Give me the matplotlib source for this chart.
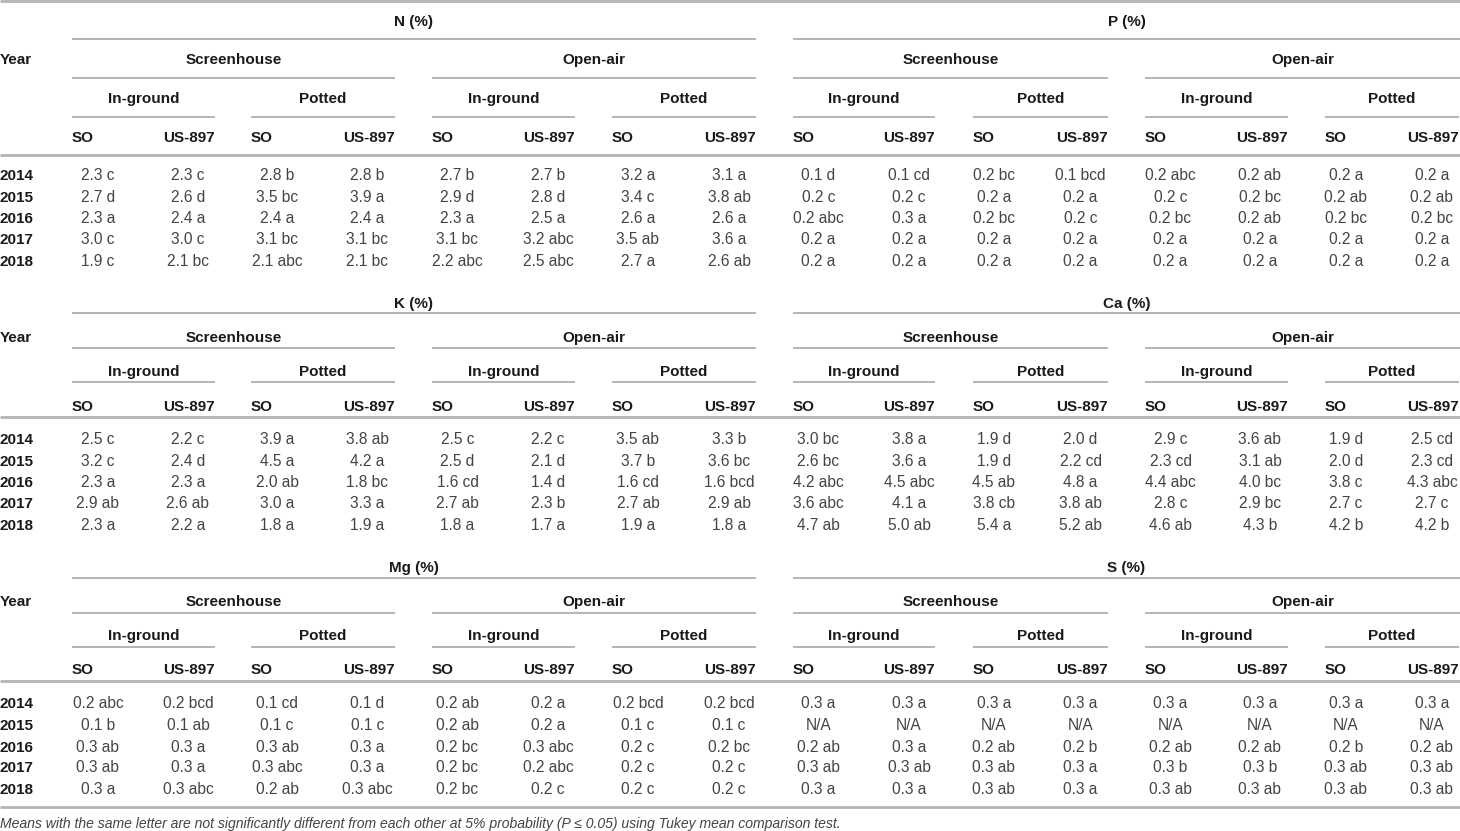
import matplotlib
matplotlib.use("Agg")
import matplotlib.pyplot as plt

# ---------------- data ----------------
years = ["2014", "2015", "2016", "2017", "2018"]
nutrients_top = ["N (%)", "P (%)"]
nutrients_mid = ["K (%)", "Ca (%)"]
nutrients_bot = ["Mg (%)", "S (%)"]
environments = ["Screenhouse", "Open-air"]
systems = ["In-ground", "Potted"]
rootstocks = ["SO", "US-897"]

N_vals = [
    ["2.3 c", "2.3 c", "2.8 b", "2.8 b", "2.7 b", "2.7 b", "3.2 a", "3.1 a"],
    ["2.7 d", "2.6 d", "3.5 bc", "3.9 a", "2.9 d", "2.8 d", "3.4 c", "3.8 ab"],
    ["2.3 a", "2.4 a", "2.4 a", "2.4 a", "2.3 a", "2.5 a", "2.6 a", "2.6 a"],
    ["3.0 c", "3.0 c", "3.1 bc", "3.1 bc", "3.1 bc", "3.2 abc", "3.5 ab", "3.6 a"],
    ["1.9 c", "2.1 bc", "2.1 abc", "2.1 bc", "2.2 abc", "2.5 abc", "2.7 a", "2.6 ab"],
]
P_vals = [
    ["0.1 d", "0.1 cd", "0.2 bc", "0.1 bcd", "0.2 abc", "0.2 ab", "0.2 a", "0.2 a"],
    ["0.2 c", "0.2 c", "0.2 a", "0.2 a", "0.2 c", "0.2 bc", "0.2 ab", "0.2 ab"],
    ["0.2 abc", "0.3 a", "0.2 bc", "0.2 c", "0.2 bc", "0.2 ab", "0.2 bc", "0.2 bc"],
    ["0.2 a", "0.2 a", "0.2 a", "0.2 a", "0.2 a", "0.2 a", "0.2 a", "0.2 a"],
    ["0.2 a", "0.2 a", "0.2 a", "0.2 a", "0.2 a", "0.2 a", "0.2 a", "0.2 a"],
]
K_vals = [
    ["2.5 c", "2.2 c", "3.9 a", "3.8 ab", "2.5 c", "2.2 c", "3.5 ab", "3.3 b"],
    ["3.2 c", "2.4 d", "4.5 a", "4.2 a", "2.5 d", "2.1 d", "3.7 b", "3.6 bc"],
    ["2.3 a", "2.3 a", "2.0 ab", "1.8 bc", "1.6 cd", "1.4 d", "1.6 cd", "1.6 bcd"],
    ["2.9 ab", "2.6 ab", "3.0 a", "3.3 a", "2.7 ab", "2.3 b", "2.7 ab", "2.9 ab"],
    ["2.3 a", "2.2 a", "1.8 a", "1.9 a", "1.8 a", "1.7 a", "1.9 a", "1.8 a"],
]
Ca_vals = [
    ["3.0 bc", "3.8 a", "1.9 d", "2.0 d", "2.9 c", "3.6 ab", "1.9 d", "2.5 cd"],
    ["2.6 bc", "3.6 a", "1.9 d", "2.2 cd", "2.3 cd", "3.1 ab", "2.0 d", "2.3 cd"],
    ["4.2 abc", "4.5 abc", "4.5 ab", "4.8 a", "4.4 abc", "4.0 bc", "3.8 c", "4.3 abc"],
    ["3.6 abc", "4.1 a", "3.8 cb", "3.8 ab", "2.8 c", "2.9 bc", "2.7 c", "2.7 c"],
    ["4.7 ab", "5.0 ab", "5.4 a", "5.2 ab", "4.6 ab", "4.3 b", "4.2 b", "4.2 b"],
]
Mg_vals = [
    ["0.2 abc", "0.2 bcd", "0.1 cd", "0.1 d", "0.2 ab", "0.2 a", "0.2 bcd", "0.2 bcd"],
    ["0.1 b", "0.1 ab", "0.1 c", "0.1 c", "0.2 ab", "0.2 a", "0.1 c", "0.1 c"],
    ["0.3 ab", "0.3 a", "0.3 ab", "0.3 a", "0.2 bc", "0.3 abc", "0.2 c", "0.2 bc"],
    ["0.3 ab", "0.3 a", "0.3 abc", "0.3 a", "0.2 bc", "0.2 abc", "0.2 c", "0.2 c"],
    ["0.3 a", "0.3 abc", "0.2 ab", "0.3 abc", "0.2 bc", "0.2 c", "0.2 c", "0.2 c"],
]
S_vals = [
    ["0.3 a", "0.3 a", "0.3 a", "0.3 a", "0.3 a", "0.3 a", "0.3 a", "0.3 a"],
    ["N/A", "N/A", "N/A", "N/A", "N/A", "N/A", "N/A", "N/A"],
    ["0.2 ab", "0.3 a", "0.2 ab", "0.2 b", "0.2 ab", "0.2 ab", "0.2 b", "0.2 ab"],
    ["0.3 ab", "0.3 ab", "0.3 ab", "0.3 a", "0.3 b", "0.3 b", "0.3 ab", "0.3 ab"],
    ["0.3 a", "0.3 a", "0.3 ab", "0.3 a", "0.3 ab", "0.3 ab", "0.3 ab", "0.3 ab"],
]
footnote = ("Means with the same letter are not significantly different from each other "
            "at 5% probability (P \u2264 0.05) using Tukey mean comparison test.")

# ---------------- layout ----------------
W, H = 1460, 831
fig = plt.figure(figsize=(W / 100, H / 100), dpi=100)
ax = fig.add_axes([0, 0, 1, 1])
ax.set_xlim(0, W)
ax.set_ylim(H, 0)
ax.axis("off")

HDR = dict(family="Liberation Sans", weight="bold", color="#1a1a1a", fontsize=11)
VAL = dict(family="Liberation Sans", color="#444444", fontsize=11.2)
LINE_C = "#b4b4b4"
BASE = 5.5  # half cap height: vertical centre -> baseline

# section geometry (left / right halves)
sections = [
    dict(span=(72, 756),
         env=[(72, 395), (432, 756)],
         groups=[(72, 215), (251, 395), (432, 575), (612, 756)],
         centers=[98, 188, 277, 367.5, 457.5, 548, 638, 729]),
    dict(span=(793, 1460),
         env=[(793, 1108), (1145, 1460)],
         groups=[(793, 935), (973, 1108), (1145, 1288), (1325, 1459)],
         centers=[818.5, 909, 994, 1080.5, 1170.5, 1260, 1346, 1432]),
]

blocks = [
    dict(names=nutrients_top, data=[N_vals, P_vals],
         ty=[20.5, 58.5, 97.5, 136], ly=[39, 78, 117, 155],
         rows=[175, 196.3, 217.5, 238.8, 260]),
    dict(names=nutrients_mid, data=[K_vals, Ca_vals],
         ty=[302.5, 337, 371, 405.5], ly=[313, 348, 382, 417],
         rows=[439, 460.5, 481.8, 503, 524.5]),
    dict(names=nutrients_bot, data=[Mg_vals, S_vals],
         ty=[567, 601, 635, 669], ly=[578, 613, 647, 681],
         rows=[703, 724.5, 746, 767, 788.5]),
]


def txt(x, y, s, ha, style):
    ax.text(x, round(y + BASE), s, ha=ha, va="baseline", **style)


def hline(y, x0, x1, lw=1.4):
    ax.plot([x0, x1], [y, y], color=LINE_C, lw=lw, solid_capstyle="butt")


# top rule
hline(1.2, 0, W, lw=2.0)

for b in blocks:
    ty, ly, rows = b["ty"], b["ly"], b["rows"]
    txt(0, ty[1], "Year", "left", HDR)
    for s, sec in enumerate(sections):
        x0, x1 = sec["span"]
        txt((x0 + x1) / 2, ty[0], b["names"][s], "center", HDR)
        hline(ly[0], x0, x1)
        for e, (ex0, ex1) in enumerate(sec["env"]):
            txt((ex0 + ex1) / 2, ty[1], environments[e], "center", HDR)
            hline(ly[1], ex0, ex1)
        for g, (gx0, gx1) in enumerate(sec["groups"]):
            txt((gx0 + gx1) / 2, ty[2], systems[g % 2], "center", HDR)
            hline(ly[2], gx0, gx1)
            txt(gx0, ty[3], rootstocks[0], "left", HDR)
            txt(gx1, ty[3], rootstocks[1], "right", HDR)
        vals = b["data"][s]
        for r, row in enumerate(vals):
            for c, v in enumerate(row):
                txt(sec["centers"][c], rows[r], v, "center", VAL)
    hline(ly[3], 0, W, lw=2.0)
    for r, yr in enumerate(years):
        txt(0, rows[r], yr, "left", HDR)

# bottom rule + footnote
hline(807, 0, W, lw=2.0)
txt(0, 822, footnote, "left", dict(family="Liberation Sans", style="italic",
                                   color="#444444", fontsize=10.1))

fig.savefig("out.png", dpi=100)
